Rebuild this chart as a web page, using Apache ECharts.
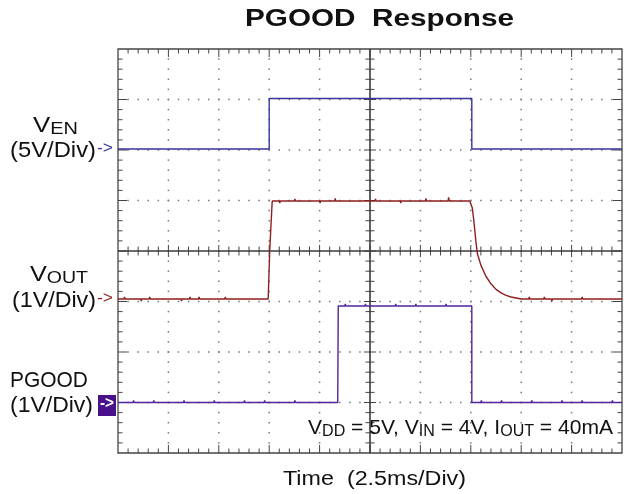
<!DOCTYPE html>
<html><head><meta charset="utf-8">
<script src="https://cdn.jsdelivr.net/npm/echarts@6/dist/echarts.min.js"></script>
<style>html,body{margin:0;padding:0;background:#fff}#c{width:642px;height:494px}</style>
</head><body><div id="c"></div>
<script>
// Axis layout (divisions)
const xDivs = 10;
const yDivs = 8;
const minorPerDiv = 5;

// V_EN trace (time in div, level in div)
const venT = [0, 3.0, 3.0, 7.02, 7.02, 10];
const venV = [6.02, 6.02, 7.02, 7.02, 6.02, 6.02];

// V_OUT trace
const voutT = [0, 0.12, 0.13, 0.14, 0.3, 0.31, 0.32, 0.45, 0.46, 0.47, 0.62, 0.63, 0.64, 0.78, 0.79, 0.8, 0.9, 0.91, 0.92, 1.08, 1.09, 1.1, 1.25, 1.26, 1.27, 1.42, 1.43, 1.44, 1.6, 1.61, 1.62, 1.78, 1.79, 1.8, 1.95, 1.96, 1.97, 2.12, 2.13, 2.14, 2.3, 2.31, 2.32, 2.48, 2.49, 2.5, 2.65, 2.66, 2.67, 2.82, 2.83, 2.84, 2.98, 3.0, 3.01, 3.04, 3.06,
  3.2, 3.21, 3.22, 3.5, 3.51, 3.52, 4.0, 4.01, 4.02, 4.3, 4.31, 4.32, 5.1, 5.11, 5.12, 5.6, 5.61, 5.62, 6.1, 6.11, 6.12, 6.55, 6.56, 6.57, 6.98, 7.0,
  7.03, 7.06, 7.1, 7.13, 7.2, 7.3, 7.4, 7.5, 7.6, 7.7, 7.8, 7.9, 8.0,
  8.15, 8.16, 8.17, 8.3, 8.31, 8.32, 8.45, 8.46, 8.47, 8.6, 8.61, 8.62, 8.75, 8.76, 8.77, 8.9, 8.91, 8.92, 9.05, 9.06, 9.07, 9.2, 9.21, 9.22, 9.38, 9.39, 9.4, 9.55, 9.56, 9.57, 9.75, 9.76, 9.77, 10];
const voutV = [3.05, 3.05, 3.09, 3.05, 3.05, 3.02, 3.05, 3.05, 3.01, 3.05, 3.05, 3.09, 3.05, 3.05, 3.08, 3.05, 3.05, 3.08, 3.05, 3.05, 3.02, 3.05, 3.05, 3.01, 3.05, 3.05, 3.09, 3.05, 3.05, 3.09, 3.05, 3.05, 3.02, 3.05, 3.05, 3.08, 3.05, 3.05, 3.09, 3.05, 3.05, 3.02, 3.05, 3.05, 3.08, 3.05, 3.05, 3.08, 3.05, 3.05, 3.02, 3.05, 3.05, 3.05, 4.0, 4.6, 4.99,
  4.99, 4.95, 4.99, 4.99, 5.03, 4.99, 4.99, 4.95, 4.99, 4.99, 5.04, 4.99, 4.99, 5.03, 4.99, 4.99, 4.95, 4.99, 4.99, 5.04, 4.99, 4.99, 5.06, 4.99, 4.99, 4.99,
  4.85, 4.6, 4.2, 3.95, 3.72, 3.5, 3.35, 3.24, 3.17, 3.12, 3.09, 3.07, 3.05,
  3.05, 3.09, 3.05, 3.05, 3.02, 3.05, 3.05, 3.09, 3.05, 3.05, 3.01, 3.05, 3.05, 3.08, 3.05, 3.05, 3.08, 3.05, 3.05, 3.02, 3.05, 3.05, 3.09, 3.05, 3.05, 3.08, 3.05, 3.05, 3.02, 3.05, 3.05, 3.08, 3.05, 3.05];

// PGOOD trace
const pgT = [0, 0.3, 0.31, 0.32, 0.5, 0.51, 0.52, 0.7, 0.71, 0.72, 0.9, 0.91, 0.92, 1.1, 1.11, 1.12, 1.3, 1.31, 1.32, 1.5, 1.51, 1.52, 1.7, 1.71, 1.72, 1.9, 1.91, 1.92, 2.1, 2.11, 2.12, 2.3, 2.31, 2.32, 2.5, 2.51, 2.52, 2.7, 2.71, 2.72, 2.9, 2.91, 2.92, 3.1, 3.11, 3.12, 3.3, 3.31, 3.32, 3.5, 3.51, 3.52, 3.7, 3.71, 3.72, 3.9, 3.91, 3.92, 4.36, 4.37,
  4.5, 4.51, 4.52, 4.7, 4.71, 4.72, 4.9, 4.91, 4.92, 5.1, 5.11, 5.12, 5.3, 5.31, 5.32, 5.5, 5.51, 5.52, 5.7, 5.71, 5.72, 5.9, 5.91, 5.92, 6.1, 6.11, 6.12, 6.3, 6.31, 6.32, 6.5, 6.51, 6.52, 6.7, 6.71, 6.72, 7.02, 7.02,
  7.2, 7.21, 7.22, 7.4, 7.41, 7.42, 7.6, 7.61, 7.62, 7.8, 7.81, 7.82, 8.0, 8.01, 8.02, 8.2, 8.21, 8.22, 8.4, 8.41, 8.42, 8.6, 8.61, 8.62, 8.8, 8.81, 8.82, 9.0, 9.01, 9.02, 9.2, 9.21, 9.22, 9.4, 9.41, 9.42, 9.6, 9.61, 9.62, 9.8, 9.81, 9.82, 10];
const pgV = [1.0, 1.0, 1.04, 1.0, 1.0, 0.97, 1.0, 1.0, 1.04, 1.0, 1.0, 1.03, 1.0, 1.0, 0.97, 1.0, 1.0, 1.04, 1.0, 1.0, 0.97, 1.0, 1.0, 1.03, 1.0, 1.0, 1.04, 1.0, 1.0, 0.97, 1.0, 1.0, 1.03, 1.0, 1.0, 1.04, 1.0, 1.0, 0.97, 1.0, 1.0, 1.04, 1.0, 1.0, 1.03, 1.0, 1.0, 0.97, 1.0, 1.0, 1.04, 1.0, 1.0, 0.97, 1.0, 1.0, 1.03, 1.0, 1.0, 2.91,
  2.91, 2.95, 2.91, 2.91, 2.88, 2.91, 2.91, 2.95, 2.91, 2.91, 2.94, 2.91, 2.91, 2.88, 2.91, 2.91, 2.95, 2.91, 2.91, 2.88, 2.91, 2.91, 2.95, 2.91, 2.91, 2.94, 2.91, 2.91, 2.88, 2.91, 2.91, 2.95, 2.91, 2.91, 2.88, 2.91, 2.91, 1.0,
  1.0, 1.04, 1.0, 1.0, 0.97, 1.0, 1.0, 1.04, 1.0, 1.0, 1.03, 1.0, 1.0, 0.97, 1.0, 1.0, 1.04, 1.0, 1.0, 1.03, 1.0, 1.0, 0.97, 1.0, 1.0, 1.04, 1.0, 1.0, 0.97, 1.0, 1.0, 1.04, 1.0, 1.0, 1.03, 1.0, 1.0, 0.97, 1.0, 1.0, 1.04, 1.0, 1.0];

const zip = (a, b) => a.map((v, i) => [v, b[i]]);

const FONT = "'Liberation Sans', Arial, sans-serif";
const C_VEN = '#35359c', C_VOUT = '#8e1f1f', C_PG = '#52239a';

const mctx = document.createElement('canvas').getContext('2d');
function fontStr(size, bold) { return (bold ? 'bold ' : '') + size + 'px ' + FONT; }
function measure(segs) {
  let w = 0;
  segs.forEach(s => { mctx.font = fontStr(s[1], s[2]); w += mctx.measureText(s[0]).width; });
  return w;
}
// segs: [text, size, bold, isSub]
function label(segs, left, right, cy, color) {
  const w = measure(segs);
  const sx = right != null ? (right - left) / w : 1;
  const rich = {};
  let text = '';
  segs.forEach((s, i) => {
    const k = 's' + i;
    rich[k] = {fontSize: s[1], fontWeight: s[2] ? 'bold' : 'normal', fontFamily: FONT, fill: color || '#111', verticalAlign: 'bottom', padding: s[3] ? [0, 0, -1, 0] : 0};
    text += '{' + k + '|' + s[0].replace(/\|/g, '') + '}';
  });
  return {type: 'text', x: left, y: cy, scaleX: sx, originX: 0, z: 10,
    style: {text: text, rich: rich, align: 'left', verticalAlign: 'middle', textAlign: 'left', textVerticalAlign: 'middle'}};
}

function gridRender(params, api) {
  const ch = [];
  const p = (x, y) => api.coord([x, y]);
  const dotColor = '#777';
  const frame = '#444';
  for (let i = 1; i < xDivs; i++) {
    if (i === xDivs / 2) continue;
    for (let j = 1; j < yDivs * minorPerDiv; j++) {
      const q = p(i, j / minorPerDiv);
      ch.push({type: 'rect', shape: {x: q[0] - 0.75, y: q[1] - 0.75, width: 1.5, height: 1.5}, style: {fill: dotColor}, silent: true});
    }
  }
  for (let j = 1; j < yDivs; j++) {
    if (j === yDivs / 2) continue;
    for (let i = 1; i < xDivs * minorPerDiv; i++) {
      const q = p(i / minorPerDiv, j);
      ch.push({type: 'rect', shape: {x: q[0] - 0.75, y: q[1] - 0.75, width: 1.5, height: 1.5}, style: {fill: dotColor}, silent: true});
    }
  }
  const line = (a, b, w, c) => ch.push({type: 'line', shape: {x1: a[0], y1: a[1], x2: b[0], y2: b[1]}, style: {stroke: c || frame, lineWidth: w || 1}, silent: true});
  for (let i = 1; i < xDivs * minorPerDiv; i++) {
    const major = i % minorPerDiv === 0;
    const L = major ? 8 : 4.5;
    const t = p(i / minorPerDiv, yDivs), b = p(i / minorPerDiv, 0);
    line(t, [t[0], t[1] + L], 1);
    line(b, [b[0], b[1] - L], 1);
    const c = p(i / minorPerDiv, yDivs / 2);
    const Lc = major ? 6 : 4.5;
    line([c[0], c[1] - Lc], [c[0], c[1] + Lc], 1, '#444');
  }
  for (let j = 1; j < yDivs * minorPerDiv; j++) {
    const major = j % minorPerDiv === 0;
    const L = major ? 9 : 4.5;
    const l = p(0, j / minorPerDiv), r = p(xDivs, j / minorPerDiv);
    line(l, [l[0] + L, l[1]], 1);
    line(r, [r[0] - L, r[1]], 1);
    const c = p(xDivs / 2, j / minorPerDiv);
    const Lc = major ? 6 : 4.5;
    line([c[0] - Lc, c[1]], [c[0] + Lc, c[1]], 1, '#444');
  }
  line(p(0, yDivs / 2), p(xDivs, yDivs / 2), 1.6, '#3a3a3a');
  line(p(xDivs / 2, 0), p(xDivs / 2, yDivs), 1.6, '#3a3a3a');
  const tl = p(0, yDivs), br = p(xDivs, 0);
  ch.push({type: 'rect', shape: {x: tl[0], y: tl[1], width: br[0] - tl[0], height: br[1] - tl[1]}, style: {fill: null, stroke: frame, lineWidth: 1.3}, silent: true});
  return {type: 'group', children: ch};
}

const chart = echarts.init(document.getElementById('c'), null, {renderer: 'canvas'});
chart.setOption({
  animation: false,
  backgroundColor: '#fff',
  grid: {left: 118, right: 20, top: 49, bottom: 41},
  xAxis: {type: 'value', min: 0, max: xDivs, interval: 1, show: false},
  yAxis: {type: 'value', min: 0, max: yDivs, interval: 1, show: false},
  graphic: [
    label([['PGOOD  Response', 23, true]], 245, 514, 20),
    label([['Time  (2.5ms/Div)', 20, false]], 283, 466, 479),
    label([['V', 22, false], ['EN', 17, false, true]], 33, 78, 126),
    label([['(5V/Div)', 22, false]], 10, 96, 151),
    label([['->', 17, false]], 97, 113, 148, C_VEN),
    label([['V', 22, false], ['OUT', 17, false, true]], 30, 88, 275),
    label([['(1V/Div)', 22, false]], 12, 96, 301),
    label([['->', 17, false]], 97, 113, 298, C_VOUT),
    label([['PGOOD', 22, false]], 10, 88, 381),
    label([['(1V/Div)', 22, false]], 10, 93, 406),
    {type: 'rect', shape: {x: 98, y: 395, width: 18, height: 21}, style: {fill: '#4a0f8a'}, z: 10},
    label([['->', 17, true]], 100, 114, 403, '#fff'),
    label([['V', 21, false], ['DD', 16, false, true], [' = 5V, V', 21, false], ['IN', 16, false, true], [' = 4V, I', 21, false], ['OUT', 16, false, true], [' = 40mA', 21, false]], 308, 613, 428)
  ],
  series: [
    {type: 'custom', renderItem: gridRender, data: [[0, 0]], silent: true, z: 1},
    {type: 'line', data: zip(venT, venV), showSymbol: false, lineStyle: {color: C_VEN, width: 1.4}, z: 3},
    {type: 'line', data: zip(voutT, voutV), showSymbol: false, lineStyle: {color: C_VOUT, width: 1.4}, z: 3},
    {type: 'line', data: zip(pgT, pgV), showSymbol: false, lineStyle: {color: C_PG, width: 1.4}, z: 3}
  ]
});
</script></body></html>
